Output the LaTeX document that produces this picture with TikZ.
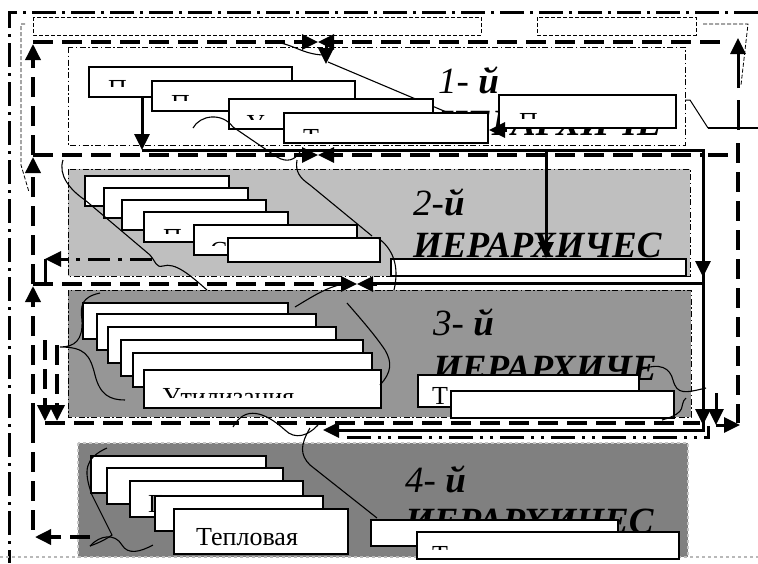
\documentclass[tikz,border=0pt]{standalone}
\usepackage{fontspec}
\setmainfont{Liberation Serif}
\usetikzlibrary{arrows.meta}
\definecolor{zonetwo}{gray}{0.75}
\definecolor{zonethree}{gray}{0.59}
\definecolor{zonefour}{gray}{0.5}

\begin{document}
\begin{tikzpicture}[line join=miter,>={Triangle[length=16pt,width=15pt]},x=1pt,y=-1pt,
 box/.style={draw,fill=white,line width=1.5pt,anchor=north west,inner sep=0pt},
 word/.style={anchor=base west,inner sep=0pt,font=\fontsize{26}{28}\selectfont},
 lvl/.style={anchor=base west,inner sep=0pt,font=\fontsize{37}{40}\selectfont\itshape},
 zone/.style={line width=1pt,dash pattern=on 6pt off 2.5pt on 1.5pt off 2.5pt},
 flow/.style={line width=3.5pt,dash pattern=on 20pt off 9pt},
 frame/.style={line width=3pt,dash pattern=on 24pt off 6pt on 3pt off 6pt},
 chain/.style={line width=3pt,dash pattern=on 22pt off 8pt on 4pt off 8pt},
 chaintwo/.style={line width=3pt,dash pattern=on 24pt off 7pt on 3pt off 7pt on 3pt off 7pt},
 fine/.style={line width=0.8pt,dash pattern=on 4pt off 2pt},
 heavy/.style={line width=3pt},
 curl/.style={line width=1.1pt}]
\useasboundingbox (0,0) rectangle (758,563);

%рамки
\draw[frame] (758,12) -- (9,12) -- (9,563);
\draw[fine] (33,17) rectangle (481,35);
\draw[fine] (537,17) rectangle (696,35);
\draw[fine] (703,24) -- (748,24) -- (741,85);
\draw[fine] (25,24) -- (21,24) -- (21,165) -- (29,192);

%уровни
\draw[zone,fill=white] (68,47) rectangle (685,145);
\draw[zone,fill=zonetwo] (68,169) rectangle (690,276);
\draw[zone,fill=zonethree] (68,290) rectangle (691,417);
\draw[gray!45,line width=1.2pt,dashed,fill=zonefour] (78,443) rectangle (688,557);
\draw[gray!55,line width=1.2pt,dashed] (0,557) -- (758,557);

\node[lvl] (n1) at (438,93) {1- \textbf{й}};
\begin{scope}
\clip (430,95) rectangle (662,145);
\node[lvl] (h1) at (438,135) {\bfseries ИЕРАРХИЧЕС};
\end{scope}
\node[lvl] (n2) at (413,215) {2-\textbf{й}};
\node[lvl] (h2) at (413,257) {\bfseries ИЕРАРХИЧЕС};
\node[lvl] (n3) at (433,335) {3- \textbf{й}};
\node[lvl] (h3) at (433,380) {\bfseries ИЕРАРХИЧЕ};
\node[lvl] (n4) at (405,492) {4- \textbf{й}};
\node[lvl] (h4) at (405,533) {\bfseries ИЕРАРХИЧЕС};

\draw[curl] (328,62) -- (470,122);

%1-й уровень
\node[box,minimum width=203pt,minimum height=30pt] (l1a) at (88,66) {};
\begin{scope}\clip (88,66) rectangle (291,86);
\node[word] at (108,97) {П};\end{scope}
\node[box,minimum width=203pt,minimum height=30pt] (l1b) at (151,80) {};
\begin{scope}\clip (151,80) rectangle (354,100);
\node[word] at (171,112) {П};\end{scope}
\node[box,minimum width=204pt,minimum height=30pt] (l1c) at (228,98) {};
\begin{scope}\clip (228,98) rectangle (432,119);
\node[word] at (246,132) {У};\end{scope}
\node[box,minimum width=204pt,minimum height=30pt] (l1d) at (283,112) {};
\begin{scope}\clip (283,112) rectangle (487,133);
\node[word] at (303,146) {Т};\end{scope}
\node[box,minimum width=177pt,minimum height=33pt] (l1e) at (498,94) {};
\begin{scope}\clip (498,94) rectangle (675,118);
\node[word] at (519,130) {П};\end{scope}

%2-й уровень
\node[box,minimum width=144pt,minimum height=30pt] (l2a) at (84,175) {};
\node[box,minimum width=144pt,minimum height=30pt] (l2b) at (103,187) {};
\node[box,minimum width=144pt,minimum height=30pt] (l2c) at (121,199) {};
\node[box,minimum width=144pt,minimum height=30pt] (l2d) at (143,211) {};
\begin{scope}\clip (143,211) rectangle (287,233);
\node[word] at (163,246) {П};\end{scope}
\node[box,minimum width=163pt,minimum height=30pt] (l2e) at (193,224) {};
\begin{scope}\clip (193,224) rectangle (356,245);
\node[word] at (210,259) {С};\end{scope}
\node[box,minimum width=152pt,minimum height=24pt] (l2f) at (227,237) {};
\node[box,minimum width=295pt,minimum height=17pt] (l2g) at (390,258) {};

%3-й уровень
\node[box,minimum width=205pt,minimum height=36pt] (l3a) at (82,302) {};
\node[box,minimum width=219pt,minimum height=36pt] (l3b) at (96,313) {};
\node[box,minimum width=228pt,minimum height=36pt] (l3c) at (107,326) {};
\node[box,minimum width=242pt,minimum height=36pt] (l3d) at (120,339) {};
\node[box,minimum width=239pt,minimum height=34pt] (l3e) at (132,352) {};
\node[box,minimum width=237pt,minimum height=38pt] (l3f) at (143,369) {};
\begin{scope}\clip (143,369) rectangle (380,397);
\node[word] at (162,405) {Утилизация};\end{scope}
\node[box,minimum width=221pt,minimum height=32pt] (l3g) at (417,374) {};
\node[word] at (432,404) {Т};
\node[box,minimum width=223pt,minimum height=27pt] (l3h) at (450,390) {};

%4-й уровень
\node[box,minimum width=175pt,minimum height=37pt] (l4a) at (90,455) {};
\node[box,minimum width=176pt,minimum height=36pt] (l4b) at (106,467) {};
\node[box,minimum width=173pt,minimum height=36pt] (l4c) at (129,480) {};
\node[word] at (148,512) {Г};
\node[box,minimum width=168pt,minimum height=35pt] (l4d) at (154,495) {};
\node[box,minimum width=174pt,minimum height=45pt] (l4e) at (173,508) {};
\node[word] (t4) at (196,545) {Тепловая};
\node[box,minimum width=247pt,minimum height=26pt] (l4f) at (370,519) {};
\node[box,minimum width=262pt,minimum height=27pt] (l4g) at (416,531) {};
\begin{scope}\clip (416,531) rectangle (678,549);
\node[word] at (432,563) {Т};
\node[word] at (496,563) {т};\end{scope}

%потоки
\draw[flow] (33,42) -- (724,42);
\draw[flow] (33,155) -- (703,155);
\draw[flow] (708,155) -- (738,155);
\draw[flow] (33,284) -- (345,284);
\draw[flow] (45,423) -- (700,423);
\draw[flow] (33,423) -- (33,537);
\draw[flow,->] (33,155) -- (33,44);
\draw[flow,->] (33,284) -- (33,157);
\draw[flow,->] (33,423) -- (33,286);
\draw[flow,->] (90,537) -- (35,537);
\draw[flow] (738,143) -- (738,423);
\draw[heavy] (33,155) -- (45,155);
\draw[heavy] (33,284) -- (45,284);

\draw[heavy,->] (142,96) -- (142,150);
\draw[heavy,->] (142,150) -- (703,150) -- (703,430) -- (323,430);
\draw[heavy,->] (703,250) -- (703,277);
\draw[heavy,->] (703,400) -- (703,425);
\draw[heavy,->] (716,393) -- (716,425);
\draw[heavy,->] (716,425) -- (740,425);
\draw[heavy] (372,283) -- (703,283);
\draw[heavy,->] (546,150) -- (546,258);
\draw[heavy,->] (507,130) -- (489,130);
\draw[chaintwo] (347,437) -- (708,437) -- (708,426);
\draw[chain,->] (152,259) -- (45,259);
\draw[heavy] (45,259) -- (45,284);
\draw[flow,->] (45,340) -- (45,421);
\draw[flow,->] (57,345) -- (57,421);

%встречные стрелки
\draw[heavy,->] (296,42) -- (318,42);
\draw[heavy,->] (340,42) -- (318,42);
\draw[heavy,->] (326,45) -- (326,64);
\draw[heavy,->] (298,155) -- (318,155);
\draw[heavy,->] (338,155) -- (318,155);
\draw[heavy,->] (337,284) -- (357,284);
\draw[heavy,->] (377,284) -- (357,284);

%справа сверху
\draw[heavy] (738,130) -- (738,100);
\draw[heavy,->] (738,88) -- (738,38);
\draw[line width=2pt] (708,128) -- (758,128);
\draw[line width=1pt] (685,100) -- (690,100) -- (708,128);

%фигурные линии
\draw[curl] (265,42) .. controls (290,40) and (300,55) .. (325,55);
\draw[curl] (193,128) .. controls (200,115) and (222,112) .. (233,127) -- (277,157) .. controls (287,163) and (295,160) .. (300,152);
\draw[curl] (297,160) .. controls (295,172) and (300,178) .. (310,185) -- (372,236);
\draw[curl] (63,160) .. controls (58,175) and (70,190) .. (85,200) -- (150,255) .. controls (156,262) and (156,268) .. (163,266) .. controls (175,262) and (190,275) .. (207,290);
\draw[curl] (378,238) .. controls (392,248) and (400,265) .. (394,290);
\draw[curl] (100,293) .. controls (82,297) and (80,305) .. (82,320) .. controls (83,340) and (75,347) .. (60,347) .. controls (85,347) and (90,355) .. (95,375) .. controls (100,395) and (110,400) .. (125,400);
\draw[curl] (295,307) .. controls (315,295) and (330,285) .. (350,283);
\draw[curl] (347,303) .. controls (360,318) and (375,335) .. (385,350) .. controls (392,362) and (392,372) .. (380,385);
\draw[curl] (640,370) .. controls (660,362) and (670,368) .. (673,380) .. controls (677,395) and (685,393) .. (706,388);
\draw[curl] (686,398) .. controls (678,405) and (690,412) .. (662,420);
\draw[curl] (233,427) .. controls (245,405) and (265,412) .. (285,430) .. controls (295,440) and (308,436) .. (318,425);
\draw[curl] (310,428) .. controls (300,445) and (300,455) .. (310,465) -- (377,518);
\draw[curl] (107,448) .. controls (85,458) and (83,470) .. (92,495) -- (112,535) .. controls (105,540) and (98,543) .. (90,546);
\draw[curl] (90,546) .. controls (100,535) and (115,533) .. (122,545) .. controls (128,555) and (140,552) .. (153,545);
\end{tikzpicture}
\end{document}
